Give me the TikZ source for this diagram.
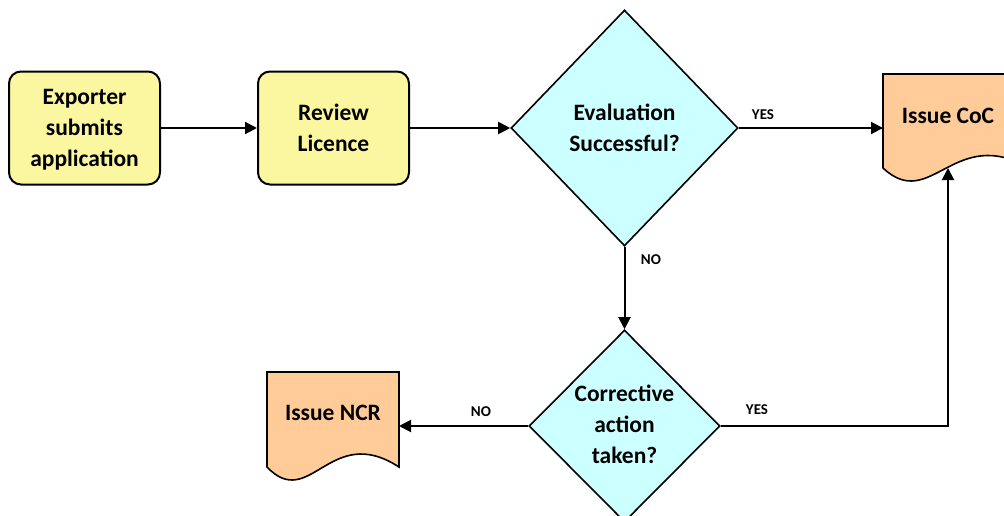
\documentclass[tikz,border=0pt]{standalone}
\usepackage{fontspec}
\setmainfont{Carlito}
\usetikzlibrary{shapes.geometric,arrows.meta}
\definecolor{boxyellow}{HTML}{FAF7A0}
\definecolor{deccyan}{HTML}{CCFFFF}
\definecolor{docorange}{HTML}{FFCC99}
\begin{document}
\begin{tikzpicture}[x=1pt,y=-1pt,
  every node/.style={font=\bfseries\fontsize{23.5}{31}\selectfont, align=center},
  procbox/.style={draw, line width=2pt, fill=boxyellow, rounded corners=12pt,
    minimum width=151pt, minimum height=113pt, inner sep=0pt},
  decbox/.style={diamond, draw, line width=1.6pt, fill=deccyan, inner sep=0pt},
  docshape/.style={draw, line width=1.6pt, fill=docorange},
  lbl/.style={font=\bfseries\fontsize{15}{16}\selectfont},
  conn/.style={line width=2pt, -{Triangle[length=12pt,width=12pt]}},
]
\useasboundingbox (0,0) rectangle (1004,515);
\clip (0,0) rectangle (1004,515);

% process boxes
\node[procbox] (exp) at (84.5,128) {};
\node (exptxt) at (84.5,130) {Exporter\\submits\\application};
\node[procbox] (rev) at (333.5,128) {Review\\Licence};

% decisions
\node[decbox, minimum width=227pt, minimum height=236pt] (eval) at (624.5,128) {};
\node (evaltxt) at (eval) {Evaluation\\Successful?};
\node[decbox, minimum width=191pt, minimum height=192pt] (corr) at (624.5,426) {};
\node (corrtxt) at (624.5,424.5) {Corrective\\action\\taken?};

% documents
\draw[docshape] (883,74) -- (1031,74) -- (1031,169)
  .. controls (954,123) and (931,213) .. (883,168) -- cycle;
\node (coc) at (948,116) {Issue CoC};
\coordinate (cocW) at (883,128);
\coordinate (cocS) at (948,168);

\draw[docshape] (267,372) -- (399,372) -- (399,467)
  .. controls (330,422) and (310,512) .. (267,467) -- cycle;
\node (ncr) at (333,413) {Issue NCR};
\coordinate (ncrE) at (399,426);

% connectors
\draw[conn] (exp.east) -- (rev.west);
\draw[conn] (rev.east) -- (eval.west);
\draw[conn] (eval.east) -- (cocW);
\draw[conn] (eval.south) -- (corr.north);
\draw[conn] (corr.west) -- (ncrE);
\draw[conn] (corr.east) -| (cocS);

% labels
\node[lbl] (yes1) at (763,115) {YES};
\node[lbl] (no1) at (651,260) {NO};
\node[lbl] (no2) at (481,412) {NO};
\node[lbl] (yes2) at (757,410) {YES};
\end{tikzpicture}
\end{document}
